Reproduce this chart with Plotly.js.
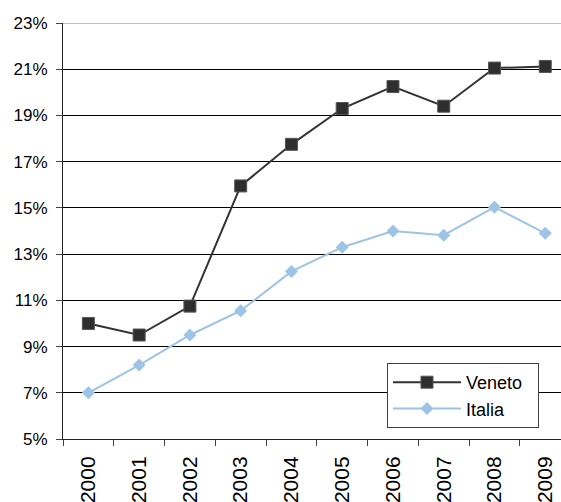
<!DOCTYPE html>
<html>
<head>
<meta charset="utf-8">
<script src="https://cdn.plot.ly/plotly-3.0.1.min.js"></script>
<style>html,body{margin:0;padding:0;background:#fff;overflow:hidden}</style>
</head>
<body>
<div id="chart" style="width:561px;height:502px"></div>
<script>
const years = ['2000','2001','2002','2003','2004','2005','2006','2007','2008','2009'];
const veneto = [10.0, 9.5, 10.75, 15.95, 17.75, 19.3, 20.25, 19.4, 21.05, 21.12];
const italia = [7.0, 8.2, 9.5, 10.55, 12.25, 13.3, 14.0, 13.82, 15.03, 13.9];
const yTickVals = [5, 7, 9, 11, 13, 15, 17, 19, 21, 23];
const seriesNames = ['Veneto', 'Italia'];

const pad = '\u00a0\u00a0';
const traces = [
  {x: years, y: veneto, name: seriesNames[0] + pad, type: 'scatter', mode: 'lines+markers',
   line: {color: '#333333', width: 2},
   marker: {symbol: 'square', size: 12, color: '#2e2e2e', line: {color: '#555555', width: 1}}},
  {x: years, y: italia, name: seriesNames[1], type: 'scatter', mode: 'lines+markers',
   line: {color: '#9DC3E6', width: 2},
   marker: {symbol: 'diamond', size: 10, color: '#9DC3E6'}}
];

const layout = {
  width: 561, height: 502,
  margin: {l: 63, r: 0, t: 23, b: 63, pad: 0},
  paper_bgcolor: '#ffffff', plot_bgcolor: '#ffffff',
  font: {family: '"Liberation Sans", Arial, sans-serif', color: '#000000', size: 16},
  showlegend: true,
  legend: {x: 0.6506, y: 0.1827, xanchor: 'left', yanchor: 'top',
    bgcolor: '#ffffff', bordercolor: '#404040', borderwidth: 1,
    font: {size: 18, color: '#000'}, tracegroupgap: 0, itemwidth: 68},
  xaxis: {type: 'category', range: [-0.5, 9.31], showgrid: false, zeroline: false,
    showline: true, linecolor: '#222222', linewidth: 1,
    ticks: 'outside', ticklen: 6, tickcolor: '#444444', tickson: 'boundaries',
    tickangle: -90, tickfont: {size: 21}, ticklabelstandoff: 8, fixedrange: true},
  yaxis: {range: [5, 23], tickvals: yTickVals, ticktext: yTickVals.map(v => v + '%'),
    showgrid: true, gridcolor: '#000000', gridwidth: 1, zeroline: false,
    showline: true, linecolor: '#222222', linewidth: 1,
    ticks: 'outside', ticklen: 6, tickcolor: '#444444',
    tickfont: {size: 17}, ticklabelstandoff: 5, fixedrange: true},
  shapes: [{type: 'line', xref: 'paper', yref: 'y', x0: 0, x1: 1, y0: 23, y1: 23,
    line: {color: '#808080', width: 1}, layer: 'above'}]
};

Plotly.newPlot('chart', traces, layout, {displayModeBar: false, staticPlot: true});
</script>
</body>
</html>
